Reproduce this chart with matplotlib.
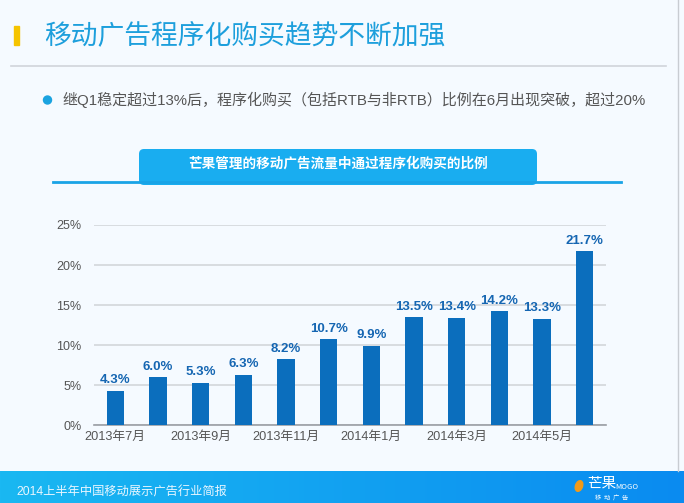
import numpy as np
import matplotlib.pyplot as plt
from matplotlib.patches import FancyBboxPatch, Rectangle, Ellipse

plt.rcParams['font.family'] = ['Noto Sans CJK SC', 'DejaVu Sans']
latin = ['Liberation Sans', 'Noto Sans CJK SC']

# data
months = ['2013年7月', '2013年8月', '2013年9月', '2013年10月', '2013年11月', '2013年12月',
          '2014年1月', '2014年2月', '2014年3月', '2014年4月', '2014年5月', '2014年6月']
share = [4.3, 6.0, 5.3, 6.3, 8.2, 10.7, 9.9, 13.5, 13.4, 14.2, 13.3, 21.7]
yticks = [0, 5, 10, 15, 20, 25]

W, H = 684, 503
bg = '#f5faff'
bar_col = '#0b6ebd'

fig = plt.figure(figsize=(W/100, H/100), dpi=100, facecolor=bg)

# page decorations in pixel coords
deco = fig.add_axes([0, 0, 1, 1])
deco.set_xlim(0, W)
deco.set_ylim(H, 0)
deco.axis('off')
deco.add_patch(Rectangle((14, 26), 5, 19, color='#f5c400'))
deco.text(44, 36, '移动广告程序化购买趋势不断加强', fontsize=19.3, color='#1d9fdc',
          va='center', ha='left')
deco.plot([11, 666], [65.5, 65.5], color='#d0d4da', lw=1.2)
deco.add_patch(Ellipse((47.5, 100), 8, 8, color='#1aa3e0'))
deco.text(62, 100, '继Q1稳定超过13%后，程序化购买（包括RTB与非RTB）比例在6月出现突破，超过20%',
          fontsize=10.8, color='#555555', va='center', ha='left', family=latin)
deco.add_patch(FancyBboxPatch((139, 149), 398, 36, boxstyle='round,pad=0,rounding_size=5',
                              color='#19adf0', lw=0))
deco.plot([53, 621], [182, 182], color='#19a3e6', lw=2)
deco.text(338, 164, '芒果管理的移动广告流量中通过程序化购买的比例', fontsize=9.8,
          color='white', weight='bold', ha='center', va='center')
deco.plot([678, 678], [0, 471], color='#c8ccd2', lw=1)

# footer gradient
grad = np.linspace(0, 1, 256).reshape(1, -1)
deco.imshow(grad, extent=(0, W, 503, 471), aspect='auto',
            cmap=plt.matplotlib.colors.LinearSegmentedColormap.from_list('f', ['#1ab8f2', '#0a8bf0']),
            zorder=1)
deco.set_xlim(0, W)
deco.set_ylim(H, 0)
deco.text(16, 492, '2014上半年中国移动展示广告行业简报', fontsize=8.8, color='#e8f6ff',
          va='center', ha='left', zorder=2, family=latin)
deco.add_patch(Ellipse((579, 486), 7, 11, angle=20, color='#f29a1a', zorder=2))
deco.text(587, 484, '芒果', fontsize=10.5, color='white', va='center', zorder=2)
deco.text(615, 487, 'MOGO', fontsize=5.5, color='white', va='center', zorder=2)
deco.text(595, 499, '移  动  广  告', fontsize=4.5, color='white', va='center', zorder=2)

# chart
ax = fig.add_axes([94/W, (H-425)/H, (606-94)/W, 200/H])
ax.set_facecolor(bg)
x = np.arange(len(months))
ax.bar(x, share, width=0.4, color=bar_col, zorder=3)
for xi, v in zip(x, share):
    ax.text(xi, v + 0.55, f'{v:.1f}%', ha='center', va='bottom', fontsize=9.5,
            weight='bold', color='#1566b2', family=['Liberation Sans'])
ax.set_xlim(-0.5, 11.5)
ax.set_ylim(0, 25)
ax.set_yticks(yticks)
ax.set_yticklabels([f'{t}%' for t in yticks], fontsize=9, color='#555555', family=latin)
ax.set_xticks(x[::2])
ax.set_xticklabels(months[::2], fontsize=9.2, color='#555555', family=latin)
ax.tick_params(axis='y', length=0, pad=9)
ax.tick_params(axis='x', length=0, pad=4)
ax.grid(axis='y', color='#d3d6da', lw=1.2, zorder=0)
for s in ['top', 'right', 'left']:
    ax.spines[s].set_visible(False)
ax.spines['bottom'].set_color('#9a9ea4')
ax.spines['bottom'].set_linewidth(1.2)

fig.savefig('out.png', dpi=100, facecolor=bg)
